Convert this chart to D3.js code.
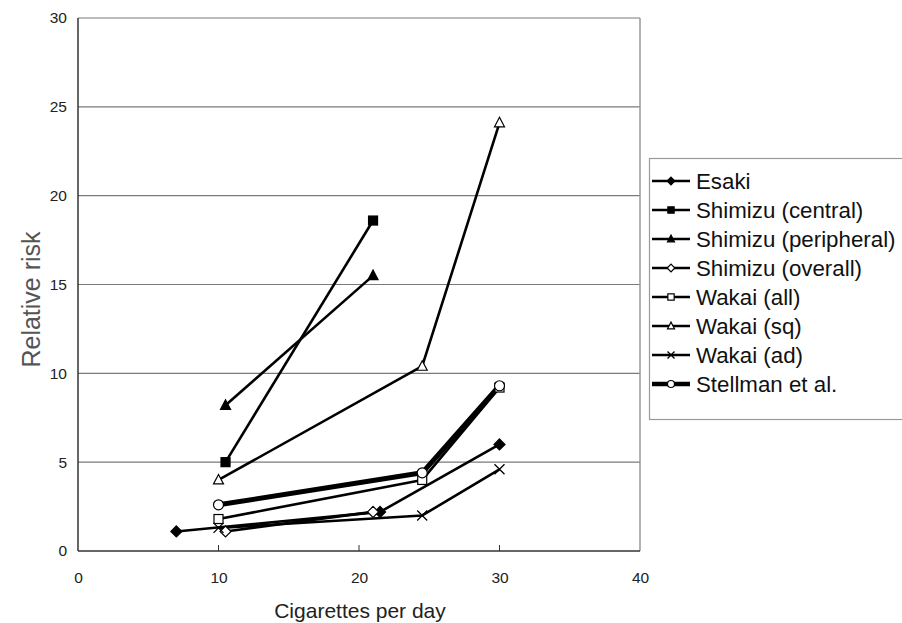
<!DOCTYPE html>
<html><head><meta charset="utf-8">
<script src="https://cdn.jsdelivr.net/npm/d3@7/dist/d3.min.js"></script>
<style>body{margin:0;background:#fff}svg{display:block}text{font-family:"Liberation Sans",Arial,sans-serif}</style>
</head><body>
<svg id="c" width="902" height="623"></svg>
<script>
const xTicks = [0, 10, 20, 30, 40];
const yTicks = [0, 5, 10, 15, 20, 25, 30];
const seriesNames = ["Esaki","Shimizu (central)","Shimizu (peripheral)","Shimizu (overall)","Wakai (all)","Wakai (sq)","Wakai (ad)","Stellman et al."];
const esaki = [[7,1.1],[21.5,2.2],[30,6.0]];
const shimizuCentral = [[10.5,5.0],[21,18.6]];
const shimizuPeripheral = [[10.5,8.2],[21,15.5]];
const shimizuOverall = [[10.5,1.1],[21,2.2]];
const wakaiAll = [[10,1.8],[24.5,4.0],[30,9.2]];
const wakaiSq = [[10,4.0],[24.5,10.4],[30,24.1]];
const wakaiAd = [[10,1.3],[24.5,2.0],[30,4.6]];
const stellman = [[10,2.6],[24.5,4.4],[30,9.3]];
const seriesData = [esaki, shimizuCentral, shimizuPeripheral, shimizuOverall, wakaiAll, wakaiSq, wakaiAd, stellman];
const markers = ["diamondF","squareF","triangleF","diamondO","squareO","triangleO","cross","circleO"];
const widths = [2.6,2.6,2.6,2.6,2.6,2.6,2.6,5];

const svg = d3.select("#c");
const L=78, R=640, T=18, B=551;
const x = d3.scaleLinear().domain([0,40]).range([L,R]);
const y = d3.scaleLinear().domain([0,30]).range([B,T]);

// gridlines
svg.append("g").selectAll("line").data(yTicks.filter(d=>d>0)).join("line")
  .attr("x1",L).attr("x2",R).attr("y1",d=>y(d)).attr("y2",d=>y(d))
  .attr("stroke","#7a7a7a").attr("stroke-width",1.2);
// right border
svg.append("line").attr("x1",R).attr("x2",R).attr("y1",T).attr("y2",B).attr("stroke","#999").attr("stroke-width",1.5);

// axes
const xAxis = d3.axisBottom(x).tickValues(xTicks).tickSize(0).tickPadding(0);
const gx = svg.append("g").attr("transform",`translate(0,${B})`).call(xAxis);
gx.select(".domain").remove();
gx.selectAll("text").attr("dy",null).attr("y",32).attr("font-size",15.5).attr("fill","#222")
  .attr("font-family","'Liberation Sans',Arial,sans-serif");
svg.append("g").selectAll("line").data(xTicks.slice(1,4)).join("line")
  .attr("x1",d=>x(d)).attr("x2",d=>x(d)).attr("y1",B).attr("y2",B-6).attr("stroke","#333").attr("stroke-width",1);

const yAxis = d3.axisLeft(y).tickValues(yTicks).tickSize(0).tickPadding(11);
const gy = svg.append("g").attr("transform",`translate(${L},0)`).call(yAxis);
gy.select(".domain").remove();
gy.selectAll("text").attr("font-size",15.5).attr("fill","#222")
  .attr("font-family","'Liberation Sans',Arial,sans-serif");

svg.append("line").attr("x1",L).attr("x2",L).attr("y1",T).attr("y2",B).attr("stroke","#333").attr("stroke-width",1.5);
svg.append("line").attr("x1",L).attr("x2",R).attr("y1",B).attr("y2",B).attr("stroke","#333").attr("stroke-width",1.5);

svg.append("text").attr("x",360).attr("y",618).attr("text-anchor","middle")
  .attr("font-size",21).attr("fill","#222").text("Cigarettes per day");
svg.append("text").attr("transform",`translate(40,${(T+B)/2 + 15}) rotate(-90)`).attr("text-anchor","middle")
  .attr("font-size",25).attr("fill","#555").text("Relative risk");

function drawMarker(g, type, cx, cy, s){
  const k = s/10;
  if(type==="diamondF"||type==="diamondO"){
    g.append("path").attr("d",`M${cx},${cy-5.5*k}L${cx+5.5*k},${cy}L${cx},${cy+5.5*k}L${cx-5.5*k},${cy}Z`)
      .attr("fill",type==="diamondF"?"#000":"#fff").attr("stroke","#000").attr("stroke-width",1.2);
  } else if(type==="squareF"||type==="squareO"){
    g.append("rect").attr("x",cx-4.5*k).attr("y",cy-4.5*k).attr("width",9*k).attr("height",9*k)
      .attr("fill",type==="squareF"?"#000":"#fff").attr("stroke","#000").attr("stroke-width",1.2);
  } else if(type==="triangleF"||type==="triangleO"){
    g.append("path").attr("d",`M${cx},${cy-5.5*k}L${cx+5*k},${cy+4*k}L${cx-5*k},${cy+4*k}Z`)
      .attr("fill",type==="triangleF"?"#000":"#fff").attr("stroke","#000").attr("stroke-width",1.2);
  } else if(type==="cross"){
    g.append("path").attr("d",`M${cx-5*k},${cy-5*k}L${cx+5*k},${cy+5*k}M${cx-5*k},${cy+5*k}L${cx+5*k},${cy-5*k}`)
      .attr("stroke","#000").attr("stroke-width",1.3).attr("fill","none");
  } else if(type==="circleO"){
    g.append("circle").attr("cx",cx).attr("cy",cy).attr("r",5*k)
      .attr("fill","#fff").attr("stroke","#000").attr("stroke-width",1.2);
  }
}

const line = d3.line().x(d=>x(d[0])).y(d=>y(d[1]));
const plot = svg.append("g");
seriesData.forEach((data,i)=>{
  plot.append("path").datum(data).attr("d",line).attr("fill","none")
    .attr("stroke","#000").attr("stroke-width",widths[i]).attr("stroke-linejoin","round");
});
seriesData.forEach((data,i)=>{
  data.forEach(d=>drawMarker(plot, markers[i], x(d[0]), y(d[1]), 10));
});

// legend
const lg = svg.append("g");
lg.append("rect").attr("x",649.5).attr("y",158.5).attr("width",260).attr("height",261)
  .attr("fill","#fff").attr("stroke","#999").attr("stroke-width",1.2);
const ly = d3.scalePoint().domain(seriesNames).range([181,384]);
seriesNames.forEach((n,i)=>{
  const yy = ly(n);
  lg.append("line").attr("x1",652).attr("x2",690).attr("y1",yy).attr("y2",yy)
    .attr("stroke","#000").attr("stroke-width",i===7?4.5:2.6);
  drawMarker(lg, markers[i], 671, yy, 7);
  lg.append("text").attr("x",696).attr("y",yy).attr("dy","0.36em")
    .attr("font-size",22.3).attr("fill","#111").text(n);
});
</script>
</body></html>
